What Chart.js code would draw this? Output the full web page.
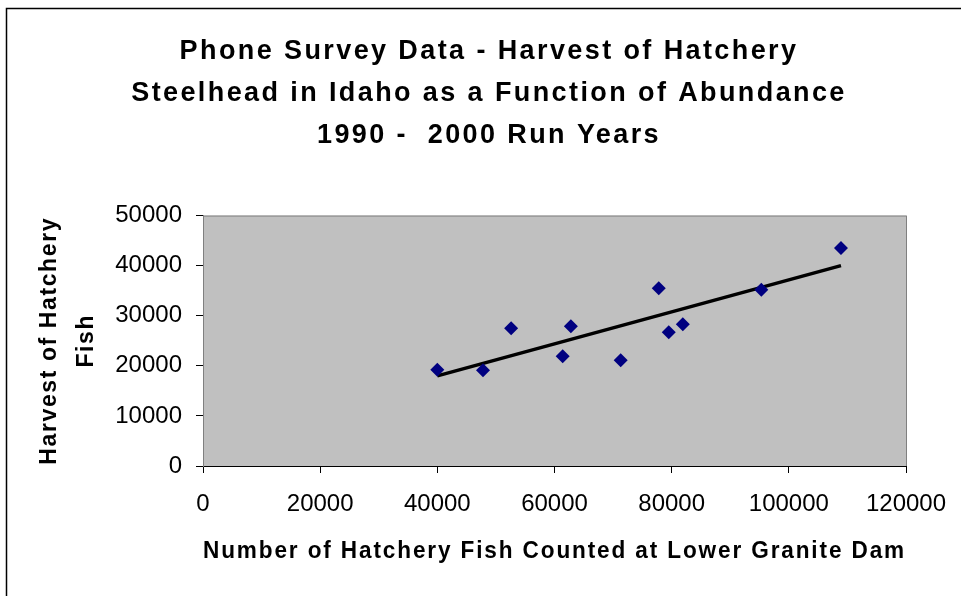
<!DOCTYPE html>
<html>
<head>
<meta charset="utf-8">
<script src="https://cdn.jsdelivr.net/npm/chart.js@4.4.1/dist/chart.umd.min.js"></script>
<style>
  html, body { margin: 0; padding: 0; background: #fff; }
  #wrap { width: 961px; height: 596px; }
</style>
</head>
<body>
<div id="wrap"><canvas id="fishChart" width="961" height="596"></canvas></div>
<script>
// 數據：魚數 (x) 與捕獲量 (y)
const fishCounted = [40000, 47800, 52600, 61400, 62800, 71300, 77800, 79500, 81900, 95300, 108900];
const fishHarvest = [19200, 19100, 27500, 21900, 27900, 21100, 35500, 26700, 28300, 35200, 43500];
// 趨勢線端點
const trendX = [40000, 108900];
const trendY = [18000, 40000];
const xTicks = [0, 20000, 40000, 60000, 80000, 100000, 120000];
const yTicks = [0, 10000, 20000, 30000, 40000, 50000];

const FONT = "'Liberation Sans', Arial, sans-serif";

// 外框與灰色繪圖區背景
const plotBackground = {
    id: 'plotBackground',
    beforeDraw(chart) {
        const c = chart.ctx;
        const a = chart.chartArea;
        c.save();
        c.strokeStyle = '#000';
        c.lineWidth = 1.5;
        c.strokeRect(6.5, 8.5, 1000, 700);
        c.fillStyle = '#c0c0c0';
        c.fillRect(a.left, a.top, a.right - a.left, a.bottom - a.top);
        c.strokeStyle = '#808080';
        c.lineWidth = 1;
        c.strokeRect(a.left + 0.5, a.top + 0.5, a.right - a.left, a.bottom - a.top);
        c.restore();
    }
};

// 給標題加上字距
function withSpacing(obj, method, spacing) {
    const orig = obj[method].bind(obj);
    obj[method] = function() {
        const c = obj.ctx;
        c.save();
        c.letterSpacing = spacing;
        orig.apply(null, arguments);
        c.restore();
    };
}

function initChart() {
    const ctx = document.getElementById('fishChart').getContext('2d');
    const chart = new Chart(ctx, {
        type: 'scatter',
        data: {
            datasets: [{
                label: 'Harvest',
                data: fishCounted.map((x, i) => ({ x: x, y: fishHarvest[i] })),
                backgroundColor: '#000080',
                borderColor: '#000080',
                pointStyle: 'rectRot',
                pointRadius: 7,
                borderWidth: 0
            }, {
                label: 'Trend',
                type: 'line',
                data: trendX.map((x, i) => ({ x: x, y: trendY[i] })),
                borderColor: '#000',
                borderWidth: 3.5,
                pointRadius: 0,
                fill: false
            }]
        },
        options: {
            responsive: false,
            animation: false,
            layout: { padding: { left: 72, top: 8, right: 55, bottom: 0 } },
            plugins: {
                legend: { display: false },
                tooltip: { enabled: false },
                title: {
                    display: true,
                    text: ['Phone Survey Data - Harvest of Hatchery',
                           'Steelhead in Idaho as a Function of Abundance',
                           '1990 -  2000 Run Years'],
                    color: '#000',
                    font: { family: FONT, size: 27, weight: 'bold', lineHeight: 1.55 },
                    padding: { top: 23, bottom: 59 }
                }
            },
            scales: {
                x: {
                    type: 'linear',
                    min: 0,
                    max: 120000,
                    afterBuildTicks: s => { s.ticks = xTicks.map(v => ({ value: v })); },
                    afterFit: s => { s.height = 130; s.paddingLeft = 0; s.paddingRight = 0; },
                    grid: { drawOnChartArea: false, color: '#000', tickLength: 7 },
                    border: { color: '#000' },
                    ticks: {
                        color: '#000',
                        font: { family: FONT, size: 24 },
                        padding: 17,
                        callback: v => String(v)
                    },
                    title: {
                        display: true,
                        text: 'Number of Hatchery Fish Counted at Lower Granite Dam',
                        color: '#000',
                        font: { family: FONT, size: 23, weight: 'bold' },
                        padding: { top: 4, bottom: 31 }
                    }
                },
                y: {
                    type: 'linear',
                    min: 0,
                    max: 50000,
                    afterBuildTicks: s => { s.ticks = yTicks.map(v => ({ value: v })); },
                    afterFit: s => { s.width = 131; s.paddingTop = 0; s.paddingBottom = 0; },
                    grid: { drawOnChartArea: false, color: '#000', tickLength: 7 },
                    border: { color: '#808080' },
                    ticks: {
                        color: '#000',
                        font: { family: FONT, size: 24 },
                        padding: 14,
                        callback: v => String(v)
                    },
                    title: {
                        display: true,
                        text: ['Harvest of Hatchery', 'Fish'],
                        color: '#000',
                        font: { family: FONT, size: 23, weight: 'bold', lineHeight: 1.6 },
                        padding: { top: -41 }
                    }
                }
            }
        },
        plugins: [plotBackground]
    });

    withSpacing(chart.titleBlock, 'draw', '2.4px');
    withSpacing(chart.scales.x, 'drawTitle', '1.9px');
    withSpacing(chart.scales.y, 'drawTitle', '1.6px');
    chart.draw();
}

document.addEventListener('DOMContentLoaded', initChart);
</script>
</body>
</html>
